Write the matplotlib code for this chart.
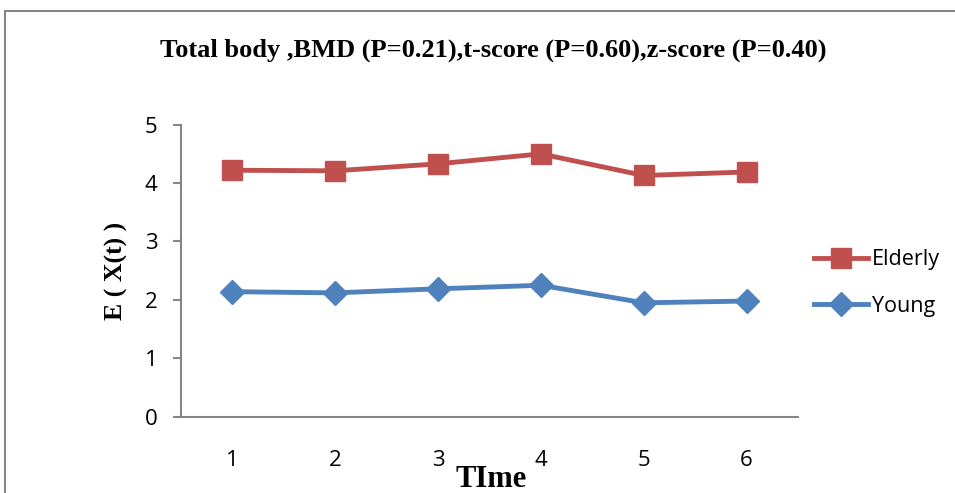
import numpy as np
import matplotlib.pyplot as plt
from matplotlib.patches import Rectangle

# data
timeList = [1, 2, 3, 4, 5, 6]
elderlyList = [4.22, 4.21, 4.33, 4.50, 4.13, 4.19]
youngList = [2.14, 2.12, 2.19, 2.25, 1.95, 1.98]
yTicks = [0, 1, 2, 3, 4, 5]

titleText = 'Total body ,BMD (P=0.21),t-score (P=0.60),z-score (P=0.40)'

if __name__ == '__main__':

	fig = plt.figure(figsize=(9.55, 4.93), dpi=100)
	ax = fig.add_axes([0.1895, 0.1548, 0.6461, 0.5923])

	# outer frame of the chart area
	fig.patches.append(Rectangle((5 / 955, -0.05), 1.0, (493 - 11) / 493 + 0.05,
		transform=fig.transFigure, fill=False, edgecolor='#868686', linewidth=1.5))

	ax.plot(timeList, elderlyList, color='#C0504D', linewidth=3.5,
		marker='s', markersize=14.5, label='Elderly')
	ax.plot(timeList, youngList, color='#4F81BD', linewidth=3.5,
		marker='D', markersize=12.5, label='Young')

	ax.set_xlim(0.5, 6.5)
	ax.set_ylim(0, 5)
	ax.set_xticks(timeList)
	ax.set_yticks(yTicks)

	for side in ['top', 'right']:
		ax.spines[side].set_visible(False)
	for side in ['left', 'bottom']:
		ax.spines[side].set_color('#868686')
		ax.spines[side].set_linewidth(1.5)

	ax.tick_params(axis='y', direction='out', length=6, width=1.5, color='#868686', pad=11)
	ax.tick_params(axis='x', length=0, pad=24)
	for lab in ax.get_xticklabels() + ax.get_yticklabels():
		lab.set_fontfamily('Open Sans')
		lab.set_fontsize(16)

	ax.set_xlabel('TIme', fontsize=22, fontweight='bold', family='Liberation Serif')
	ax.xaxis.set_label_coords(0.502, -0.165)
	ax.set_ylabel('E ( X(t) )', fontsize=18.5, fontweight='bold', family='Liberation Serif', labelpad=12)

	fig.text(0.517, 0.897, titleText, ha='center', va='center', fontsize=19,
		fontweight='bold', family='Liberation Serif')

	leg = fig.legend(loc='center left', bbox_to_anchor=(0.832, 0.426), frameon=False,
		handlelength=2.5, labelspacing=1.2, prop={'family': 'Open Sans', 'size': 15.5},
		handletextpad=0.2)

	fig.savefig('out.png', dpi=100)
	plt.close(fig)
